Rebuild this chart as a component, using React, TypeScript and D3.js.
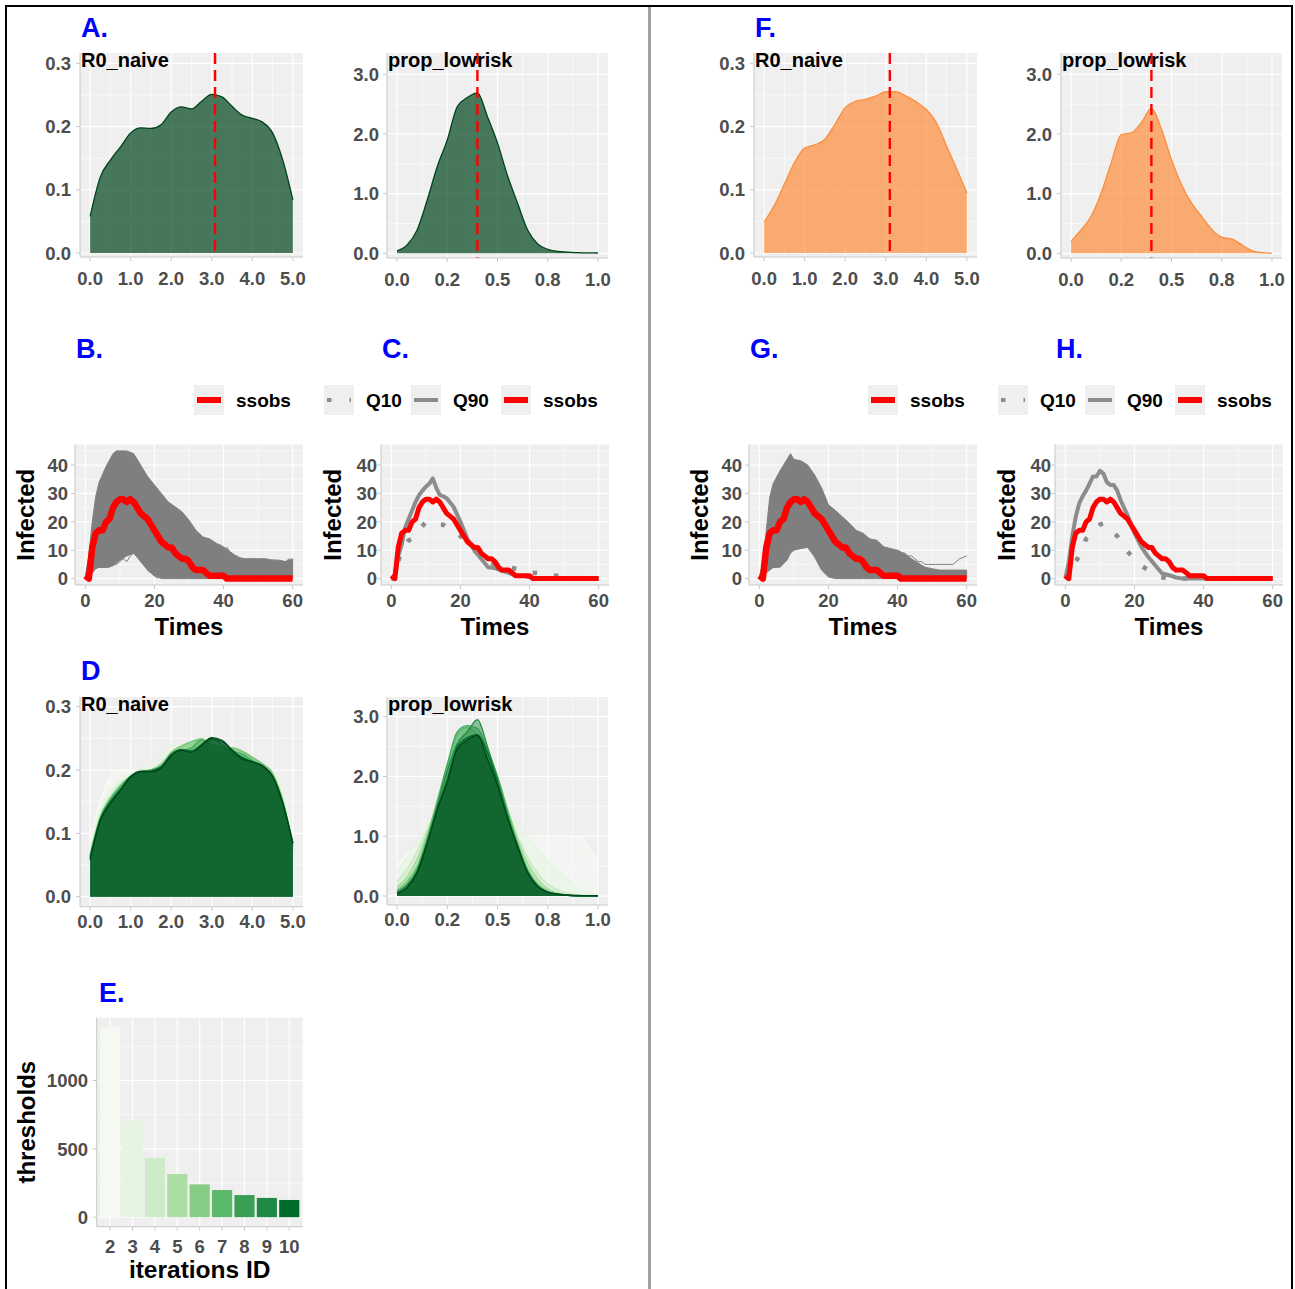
import React from 'react';
import * as d3 from 'd3';

// ---------- data ----------
const R0_X = [0, 0.25, 0.5, 0.75, 1, 1.25, 1.5, 1.75, 2, 2.25, 2.5, 2.75, 3, 3.25, 3.5, 3.75, 4, 4.25, 4.5, 4.75, 5];
const PROP_X = [0, 0.05, 0.1, 0.15, 0.2, 0.25, 0.3, 0.35, 0.4, 0.45, 0.5, 0.55, 0.6, 0.65, 0.7, 0.75, 0.8, 0.85, 0.9, 0.95, 1];

const A_R0 = [0.058, 0.12, 0.147, 0.168, 0.19, 0.198, 0.197, 0.203, 0.223, 0.231, 0.228, 0.24, 0.251, 0.247, 0.232, 0.218, 0.213, 0.207, 0.19, 0.147, 0.084];
const A_PROP = [0.04, 0.14, 0.39, 0.89, 1.45, 1.9, 2.46, 2.61, 2.69, 2.29, 1.85, 1.3, 0.84, 0.39, 0.156, 0.067, 0.03, 0.02, 0.01, 0.006, 0.005];
const F_R0 = [0.049, 0.075, 0.109, 0.143, 0.166, 0.171, 0.18, 0.204, 0.23, 0.24, 0.243, 0.248, 0.255, 0.255, 0.248, 0.239, 0.227, 0.206, 0.169, 0.133, 0.095];
const F_PROP = [0.2, 0.39, 0.62, 1.01, 1.52, 1.99, 2.02, 2.19, 2.43, 2.08, 1.57, 1.15, 0.84, 0.62, 0.4, 0.27, 0.24, 0.14, 0.045, 0.01, 0];

// posterior estimate (red dashed line)
const A_R0_EST = 3.08;
const A_PROP_EST = 0.4;
const F_R0_EST = 3.1;
const F_PROP_EST = 0.4;

// densities for each ABC iteration (panel D), first to last
const D_R0_DENS = [
  [0.085, 0.15, 0.19, 0.2, 0.2, 0.2, 0.2, 0.2, 0.205, 0.21, 0.21, 0.21, 0.21, 0.21, 0.21, 0.205, 0.2, 0.2, 0.19, 0.15, 0.08],
  [0.08, 0.14, 0.17, 0.185, 0.195, 0.2, 0.21, 0.225, 0.24, 0.24, 0.235, 0.23, 0.23, 0.23, 0.225, 0.22, 0.215, 0.21, 0.2, 0.16, 0.085],
  [0.07, 0.13, 0.16, 0.18, 0.19, 0.2, 0.2, 0.21, 0.225, 0.23, 0.24, 0.25, 0.24, 0.23, 0.235, 0.23, 0.22, 0.21, 0.195, 0.155, 0.08],
  [0.065, 0.125, 0.155, 0.175, 0.19, 0.195, 0.2, 0.21, 0.225, 0.235, 0.245, 0.25, 0.235, 0.225, 0.232, 0.228, 0.218, 0.208, 0.19, 0.15, 0.075],
  [0.06, 0.12, 0.15, 0.17, 0.185, 0.195, 0.2, 0.208, 0.228, 0.238, 0.245, 0.248, 0.228, 0.23, 0.235, 0.23, 0.22, 0.21, 0.195, 0.15, 0.07],
  [0.065, 0.125, 0.155, 0.175, 0.19, 0.197, 0.198, 0.205, 0.22, 0.23, 0.235, 0.248, 0.24, 0.235, 0.23, 0.225, 0.215, 0.205, 0.19, 0.15, 0.08],
  [0.06, 0.12, 0.15, 0.17, 0.19, 0.198, 0.2, 0.205, 0.225, 0.232, 0.23, 0.24, 0.25, 0.24, 0.226, 0.218, 0.212, 0.205, 0.19, 0.15, 0.085],
  [0.062, 0.122, 0.15, 0.17, 0.188, 0.197, 0.198, 0.205, 0.224, 0.232, 0.23, 0.238, 0.249, 0.245, 0.23, 0.22, 0.213, 0.206, 0.19, 0.148, 0.085],
  A_R0,
];
const D_PROP_DENS = [
  [0.5, 0.7, 0.8, 0.85, 0.9, 0.92, 0.95, 0.97, 0.98, 1.0, 1.0, 1.0, 1.0, 1.0, 1.0, 1.0, 1.0, 1.0, 0.98, 0.85, 0.55],
  [0.4, 0.65, 0.9, 1.15, 1.4, 1.6, 1.75, 1.8, 1.75, 1.62, 1.5, 1.38, 1.2, 0.99, 0.78, 0.6, 0.42, 0.28, 0.15, 0.05, 0.02],
  [0.25, 0.45, 0.75, 1.1, 1.5, 1.9, 2.2, 2.35, 2.3, 2.1, 1.8, 1.4, 1.0, 0.65, 0.38, 0.2, 0.1, 0.05, 0.02, 0.01, 0],
  [0.15, 0.32, 0.62, 1.05, 1.55, 2.05, 2.45, 2.6, 2.55, 2.3, 1.95, 1.45, 0.95, 0.55, 0.28, 0.12, 0.05, 0.02, 0.01, 0, 0],
  [0.1, 0.25, 0.5, 1.0, 1.6, 2.2, 2.7, 2.82, 2.7, 2.4, 2.0, 1.45, 0.9, 0.45, 0.2, 0.08, 0.03, 0.01, 0, 0, 0],
  [0.08, 0.2, 0.45, 0.95, 1.55, 2.2, 2.75, 2.85, 2.8, 2.45, 2.0, 1.4, 0.85, 0.42, 0.18, 0.07, 0.03, 0.01, 0, 0, 0],
  [0.06, 0.18, 0.42, 0.9, 1.5, 2.1, 2.55, 2.75, 2.95, 2.5, 1.95, 1.35, 0.8, 0.4, 0.17, 0.07, 0.03, 0.01, 0, 0, 0],
  [0.05, 0.15, 0.4, 0.88, 1.45, 1.95, 2.5, 2.65, 2.7, 2.4, 1.9, 1.33, 0.82, 0.4, 0.16, 0.06, 0.03, 0.01, 0, 0, 0],
  A_PROP,
];
const GREENS = ['#f7fcf5', '#e5f5e0', '#c7e9c0', '#a1d99b', '#74c476', '#41ab5d', '#238b45', '#006d2c', '#00441b'];

// observed epidemic
const TIMES = [0, 1, 2, 3, 4, 5, 6, 7, 8, 9, 10, 11, 12, 13, 14, 15, 16, 17, 18, 19, 20, 21, 22, 23, 24, 25, 26, 27, 28, 29, 30,
  31, 32, 33, 34, 35, 36, 37, 38, 39, 40, 41, 42, 43, 44, 45, 46, 47, 48, 49, 50, 51, 52, 53, 54, 55, 56, 57, 58, 59, 60];
const SSOBS = [1, 0, 11, 16, 17, 17, 20, 21, 25, 27, 28, 28, 27, 28, 27, 25, 23, 22, 21, 19, 17, 15, 13, 12, 11, 11, 9, 8, 7, 7, 6,
  4, 3, 3, 3, 2, 1, 1, 1, 1, 1, 0, 0, 0, 0, 0, 0, 0, 0, 0, 0, 0, 0, 0, 0, 0, 0, 0, 0, 0, 0];

// envelope of the simulated trajectories (panels B, G)
const ENV_T = [0, 1, 2, 3, 4, 6, 8, 9, 10, 12, 14, 16, 18, 20, 22, 24, 26, 28, 30, 32, 34, 36, 38, 40, 42, 44, 46, 48, 50, 52, 54, 56, 58, 60];
const B_UPPER = [1, 8, 20, 29, 34, 39.5, 44, 45, 45, 45, 44, 40, 36, 33, 30, 27, 25.3, 23.5, 20.6, 17, 14.7, 14, 12.4, 11.2, 9.4, 7.6, 7, 7, 7, 7, 6.6, 6.5, 6, 7];
const B_LOWER = [0, 0, 2, 3.5, 4, 4, 4.5, 5.5, 6.5, 8, 9, 6, 3, 1, 0, 0, 0, 0, 0, 0, 0, 0, 0, 0, 0, 0, 0, 0, 0, 0, 0, 0, 0, 0];
const G_UPPER = [1, 5, 17, 28.6, 33.5, 38, 42, 44, 42, 41.5, 40, 36.5, 32, 26, 24, 21.8, 19.6, 17, 16, 14, 13.5, 11.2, 10.6, 10, 8.8, 7, 5.5, 4, 3.5, 3, 3, 3, 3, 3];
const G_LOWER = [0, 0, 2, 3, 3.9, 4, 6.5, 9, 10, 10.6, 11, 7.6, 3, 0.6, 0, 0, 0, 0, 0, 0, 0, 0, 0, 0, 0, 0, 0, 0, 0, 0, 0, 0, 0, 0];

// a few individual simulated trajectories at the edges
const B_TRAJ = [
  { t: [0, 1, 2, 3, 4, 5, 6, 7, 8, 9, 10, 11, 12, 13, 14, 15, 16, 17, 18, 19, 20, 21],
    v: [1, 2, 3, 4, 4, 4, 4, 4, 5, 5, 6, 7, 6, 8, 9, 8, 6, 5, 3, 2, 1, 0] },
  { t: [0, 2, 4, 6, 8, 10, 12, 13, 14, 15, 16, 17, 18, 19, 20],
    v: [1, 3, 5, 5, 6, 8, 9, 10, 9, 10, 8, 6, 4, 2, 1] },
  { t: [34, 35, 36, 37, 38, 39, 40, 41, 42, 43, 44, 45, 46, 47, 48, 49, 50, 51, 52, 53, 54, 55, 56, 57, 58, 59, 60],
    v: [13, 12, 13, 12, 11, 12, 10, 11, 9, 8, 8, 7, 7, 6, 7, 7, 6, 6, 7, 6, 6, 5, 5, 6, 6, 7, 6] },
];
const G_TRAJ = [
  { t: [0, 1, 2, 3, 4, 5, 6, 7, 8, 9, 10, 11, 12, 13, 14, 15, 16, 17, 18, 19, 20],
    v: [1, 2, 4, 4, 4, 5, 6, 8, 10, 11, 12, 11, 11, 12, 11, 10, 8, 6, 4, 2, 1] },
  { t: [40, 41, 42, 43, 44, 45, 46, 47, 48, 49, 50, 51, 52, 53, 54, 55, 56, 57, 58, 59, 60],
    v: [10, 9, 9, 8, 8, 7, 6, 6, 5, 5, 5, 5, 5, 5, 5, 5, 5, 6, 7, 7.5, 8] },
];

// quantiles of the simulations (panels C, H)
const Q_T = [0, 1, 2, 3, 4, 5, 6, 7, 8, 9, 10, 11, 12, 13, 14, 15, 16, 18, 20, 22, 24, 26, 28, 30, 32, 34, 36, 38, 40, 42, 44, 46, 48, 50, 55, 60];
const C_Q90 = [0, 0, 8, 12, 18, 21, 24, 27, 29.4, 31, 32.4, 33.5, 35.3, 32, 29.5, 29, 28.3, 25.3, 20, 14, 10, 7, 4, 3.7, 2.7, 2, 1, 1, 0.5, 0, 0, 0, 0, 0, 0, 0];
const C_Q10 = [0, 0, 6, 10, 12, 13.5, 14, 15.5, 17, 18.5, 20, 20, 20, 19.5, 19, 19, 18, 17, 15, 12, 10, 8, 6, 5, 4, 4, 3.5, 3, 2, 2, 1.5, 1, 1, 0.5, 0, 0];
const H_Q90 = [0, 6, 14.7, 21.8, 26.5, 29, 31, 33.5, 36, 36, 38, 37, 34, 33, 33, 31, 27.6, 22.3, 16, 11.2, 7.6, 4.7, 1.8, 1.2, 0.4, 0, 0, 0, 0, 0, 0, 0, 0, 0, 0, 0];
const H_Q10 = [0, 0.5, 3, 6, 8, 11, 14, 15, 16.5, 18, 19, 19.5, 19, 17.5, 16, 15, 13, 9.5, 7, 4.5, 3, 1, 0.5, 0, 0, 0, 0, 0, 0, 0, 0, 0, 0, 0, 0, 0];

// thresholds per iteration (panel E)
const ITER_IDS = ['2', '3', '4', '5', '6', '7', '8', '9', '10'];
const THRESHOLDS = [1390, 704, 434, 316, 240, 199, 162, 141, 126];
const BAR_COLORS = ['#f4faf2', '#e6f4e2', '#cdebc6', '#acdea4', '#86cc84', '#5cb86a', '#3a9f55', '#1f8a43', '#006d2c'];

// tick labels
const R0_TICKS = [0, 1, 2, 3, 4, 5];
const R0_LABELS = ['0.0', '1.0', '2.0', '3.0', '4.0', '5.0'];
const R0_MINOR = [0.5, 1.5, 2.5, 3.5, 4.5];
const R0_Y_TICKS = [0, 0.1, 0.2, 0.3];
const R0_Y_LABELS = ['0.0', '0.1', '0.2', '0.3'];
const R0_Y_MINOR = [0.05, 0.15, 0.25];
const PROP_TICKS = [0, 0.25, 0.5, 0.75, 1];
const PROP_LABELS = ['0.0', '0.2', '0.5', '0.8', '1.0'];
const PROP_MINOR = [0.125, 0.375, 0.625, 0.875];
const PROP_Y_TICKS = [0, 1, 2, 3];
const PROP_Y_LABELS = ['0.0', '1.0', '2.0', '3.0'];
const PROP_Y_MINOR = [0.5, 1.5, 2.5];
const TIME_TICKS = [0, 20, 40, 60];
const TIME_LABELS = ['0', '20', '40', '60'];
const TIME_MINOR = [10, 30, 50];
const INF_TICKS = [0, 10, 20, 30, 40];
const INF_LABELS = ['0', '10', '20', '30', '40'];
const INF_MINOR = [5, 15, 25, 35, 45];
const THR_TICKS = [0, 500, 1000];
const THR_LABELS = ['0', '500', '1000'];
const THR_MINOR = [250, 750, 1250];

// ---------- styling ----------
const FONT = '"Liberation Sans", Arial, Helvetica, sans-serif';
const PANEL_BG = '#efefef';
const AXIS_TXT = '#4d4d4d';
const TICK_COL = '#c8c8c8';
const SIM_GRAY = '#7f7f7f';
const Q_GRAY = '#8c8c8c';

type Lin = d3.ScaleLinear<number, number>;

function Frame(props: {
  x: Lin; y: Lin;
  xMajor: number[]; xMinor: number[]; xLabels: string[];
  yMajor: number[]; yMinor: number[]; yLabels: string[];
  yLabRight: number; xLabBase: number; children?: React.ReactNode;
}) {
  const { x, y, xMajor, xMinor, xLabels, yMajor, yMinor, yLabels, yLabRight, xLabBase, children } = props;
  const [x0, x1] = x.range();
  const [yb, yt] = y.range();
  return (
    <g>
      <rect x={x0} y={yt} width={x1 - x0} height={yb - yt} fill={PANEL_BG} />
      {xMinor.map((v) => <line key={'xn' + v} x1={x(v)} x2={x(v)} y1={yt} y2={yb} stroke="#fff" strokeWidth={0.6} />)}
      {yMinor.map((v) => <line key={'yn' + v} x1={x0} x2={x1} y1={y(v)} y2={y(v)} stroke="#fff" strokeWidth={0.6} />)}
      {xMajor.map((v) => <line key={'xj' + v} x1={x(v)} x2={x(v)} y1={yt} y2={yb} stroke="#fff" strokeWidth={1.2} />)}
      {yMajor.map((v) => <line key={'yj' + v} x1={x0} x2={x1} y1={y(v)} y2={y(v)} stroke="#fff" strokeWidth={1.2} />)}
      {children}
      <line x1={x0} x2={x0} y1={yt} y2={yb} stroke={TICK_COL} strokeWidth={1} />
      <line x1={x0} x2={x1} y1={yb} y2={yb} stroke={TICK_COL} strokeWidth={1} />
      {xMajor.map((v) => <line key={'xt' + v} x1={x(v)} x2={x(v)} y1={yb} y2={yb + 4} stroke={TICK_COL} />)}
      {yMajor.map((v) => <line key={'yt' + v} x1={x0 - 4} x2={x0} y1={y(v)} y2={y(v)} stroke={TICK_COL} />)}
      {xMajor.map((v, i) => (
        <text key={'xl' + v} x={x(v)} y={xLabBase} textAnchor="middle" fontSize={18.5} fontWeight="bold" fill={AXIS_TXT}>{xLabels[i]}</text>
      ))}
      {yMajor.map((v, i) => (
        <text key={'yl' + v} x={yLabRight} y={y(v)} dy="0.36em" textAnchor="end" fontSize={18.5} fontWeight="bold" fill={AXIS_TXT}>{yLabels[i]}</text>
      ))}
    </g>
  );
}

type Dens = { ys: number[]; fill: string; opacity: number; stroke: string };

function DensityPanel(props: {
  kind: 'r0' | 'prop'; left: number; right: number; top: number; bottom: number;
  yDom: [number, number]; yLabRight: number; xLabBase: number;
  curves: Dens[]; est?: number;
}) {
  const { kind, left, right, top, bottom, yDom, yLabRight, xLabBase, curves, est } = props;
  const isR0 = kind === 'r0';
  const xs = isR0 ? R0_X : PROP_X;
  const x = d3.scaleLinear().domain(isR0 ? [-0.25, 5.25] : [-0.05, 1.05]).range([left, right]);
  const y = d3.scaleLinear().domain(yDom).range([bottom, top]);
  const area = d3.area<number>().x((_, i) => x(xs[i])).y0(y(0)).y1((d) => y(d)).curve(d3.curveMonotoneX);
  const line = d3.line<number>().x((_, i) => x(xs[i])).y((d) => y(d)).curve(d3.curveMonotoneX);
  return (
    <Frame
      x={x} y={y}
      xMajor={isR0 ? R0_TICKS : PROP_TICKS} xMinor={isR0 ? R0_MINOR : PROP_MINOR} xLabels={isR0 ? R0_LABELS : PROP_LABELS}
      yMajor={isR0 ? R0_Y_TICKS : PROP_Y_TICKS} yMinor={isR0 ? R0_Y_MINOR : PROP_Y_MINOR} yLabels={isR0 ? R0_Y_LABELS : PROP_Y_LABELS}
      yLabRight={yLabRight} xLabBase={xLabBase}
    >
      {curves.map((c, i) => (
        <g key={i}>
          <path d={area(c.ys) || ''} fill={c.fill} fillOpacity={c.opacity} />
          <path d={line(c.ys) || ''} fill="none" stroke={c.stroke} strokeWidth={1.3} />
        </g>
      ))}
      {est !== undefined && (
        <line x1={x(est)} x2={x(est)} y1={top} y2={bottom} stroke="#ff0000" strokeWidth={2.4} strokeDasharray="11,6" />
      )}
      <text x={left + 1} y={top + 14} fontSize={20} fontWeight="bold" fill="#000">{isR0 ? 'R0_naive' : 'prop_lowrisk'}</text>
    </Frame>
  );
}

type Series = { t: number[]; v: number[] };

function TimePanel(props: {
  left: number; yLabRight: number; infX: number;
  envelope?: { upper: number[]; lower: number[]; traj: Series[] };
  q10?: number[]; q90?: number[];
}) {
  const { left, yLabRight, infX, envelope, q10, q90 } = props;
  const right = left + 228;
  const top = 444.5;
  const bottom = 585;
  const x = d3.scaleLinear().domain([-3, 63]).range([left, right]);
  const y = d3.scaleLinear().domain([-2.25, 47.25]).range([bottom, top]);
  const mk = (ts: number[]) => d3.line<number>().x((_, i) => x(ts[i])).y((d) => y(d));
  let envPath = '';
  if (envelope) {
    envPath = d3.area<number>().x((_, i) => x(ENV_T[i])).y0((_, i) => y(envelope.lower[i])).y1((d) => y(d))(envelope.upper) || '';
  }
  return (
    <g>
      <Frame
        x={x} y={y}
        xMajor={TIME_TICKS} xMinor={TIME_MINOR} xLabels={TIME_LABELS}
        yMajor={INF_TICKS} yMinor={INF_MINOR} yLabels={INF_LABELS}
        yLabRight={yLabRight} xLabBase={607}
      >
        {envelope && (
          <g>
            <path d={envPath} fill={SIM_GRAY} stroke={SIM_GRAY} strokeWidth={1} />
            {envelope.traj.map((s, i) => (
              <path key={i} d={mk(s.t)(s.v) || ''} fill="none" stroke={SIM_GRAY} strokeWidth={1} />
            ))}
          </g>
        )}
        {q10 && <path d={mk(Q_T)(q10) || ''} fill="none" stroke={Q_GRAY} strokeWidth={4.5} strokeDasharray="4.5,17" />}
        {q90 && <path d={mk(Q_T)(q90) || ''} fill="none" stroke={Q_GRAY} strokeWidth={4} strokeLinejoin="round" />}
        <path d={mk(TIMES)(SSOBS) || ''} fill="none" stroke="#ff0000" strokeWidth={envelope ? 6.5 : 5} strokeLinejoin="round" />
      </Frame>
      <text transform={`translate(${infX},${(top + bottom) / 2}) rotate(-90)`} dy="0.35em" textAnchor="middle" fontSize={24} fontWeight="bold" fill="#000">Infected</text>
      <text x={(left + right) / 2} y={635} textAnchor="middle" fontSize={24} fontWeight="bold" fill="#000">Times</text>
    </g>
  );
}

function LegendKey(props: { x: number; label: string; kind: 'ssobs' | 'q10' | 'q90' }) {
  const { x, label, kind } = props;
  const color = kind === 'ssobs' ? '#ff0000' : Q_GRAY;
  return (
    <g>
      <rect x={x} y={385} width={30} height={30} fill={PANEL_BG} />
      <line x1={x + 3} x2={x + 27} y1={400} y2={400} stroke={color} strokeWidth={kind === 'ssobs' ? 6 : 4}
        strokeDasharray={kind === 'q10' ? '4.5,18' : undefined} />
      <text x={x + 42} y={407} fontSize={19} fontWeight="bold" fill="#000">{label}</text>
    </g>
  );
}

function ThresholdPanel() {
  const left = 96.7, right = 302.7, top = 1017.7, bottom = 1226.7;
  const x = d3.scaleBand<string>().domain(ITER_IDS).range([left, right]).paddingInner(0.1).paddingOuter(0.15);
  const y = d3.scaleLinear().domain([-69.5, 1459.5]).range([bottom, top]);
  const cx = (id: string) => (x(id) || 0) + x.bandwidth() / 2;
  return (
    <g>
      <rect x={left} y={top} width={right - left} height={bottom - top} fill={PANEL_BG} />
      {THR_MINOR.map((v) => <line key={'n' + v} x1={left} x2={right} y1={y(v)} y2={y(v)} stroke="#fff" strokeWidth={0.6} />)}
      {THR_TICKS.map((v) => <line key={'j' + v} x1={left} x2={right} y1={y(v)} y2={y(v)} stroke="#fff" strokeWidth={1.2} />)}
      {ITER_IDS.map((id) => <line key={'v' + id} x1={cx(id)} x2={cx(id)} y1={top} y2={bottom} stroke="#fff" strokeWidth={1.2} />)}
      {ITER_IDS.map((id, i) => (
        <rect key={'b' + id} x={x(id)} y={y(THRESHOLDS[i])} width={x.bandwidth()} height={y(0) - y(THRESHOLDS[i])} fill={BAR_COLORS[i]} />
      ))}
      <line x1={left} x2={left} y1={top} y2={bottom} stroke={TICK_COL} />
      <line x1={left} x2={right} y1={bottom} y2={bottom} stroke={TICK_COL} />
      {ITER_IDS.map((id) => <line key={'t' + id} x1={cx(id)} x2={cx(id)} y1={bottom} y2={bottom + 4} stroke={TICK_COL} />)}
      {THR_TICKS.map((v) => <line key={'yt' + v} x1={left - 4} x2={left} y1={y(v)} y2={y(v)} stroke={TICK_COL} />)}
      {ITER_IDS.map((id) => (
        <text key={'l' + id} x={cx(id)} y={1253} textAnchor="middle" fontSize={18.5} fontWeight="bold" fill={AXIS_TXT}>{id}</text>
      ))}
      {THR_TICKS.map((v, i) => (
        <text key={'yl' + v} x={88} y={y(v)} dy="0.36em" textAnchor="end" fontSize={18.5} fontWeight="bold" fill={AXIS_TXT}>{THR_LABELS[i]}</text>
      ))}
      <text x={(left + right) / 2} y={1278} textAnchor="middle" fontSize={24.5} fontWeight="bold" fill="#000">iterations ID</text>
      <text transform={`translate(27,${(top + bottom) / 2}) rotate(-90)`} dy="0.35em" textAnchor="middle" fontSize={24} fontWeight="bold" fill="#000">thresholds</text>
    </g>
  );
}

function PanelLetter(props: { x: number; y: number; text: string }) {
  return <text x={props.x} y={props.y} fontSize={27} fontWeight="bold" fill="#0000ff">{props.text}</text>;
}

export default function App() {
  const green = (ys: number[]): Dens[] => [{ ys, fill: '#00441b', opacity: 0.7, stroke: '#00441b' }];
  const orange = (ys: number[]): Dens[] => [{ ys, fill: '#fd8d3c', opacity: 0.7, stroke: '#fd8d3c' }];
  const iters = (list: number[][]): Dens[] =>
    list.map((ys, i) => ({ ys, fill: GREENS[i], opacity: 0.5, stroke: GREENS[i] }));

  return (
    <svg width={1295} height={1289} fontFamily={FONT} style={{ position: 'absolute', left: 0, top: 0, display: 'block' }}>
      <rect width={1295} height={1289} fill="#fff" />

      {/* left half */}
      <PanelLetter x={81} y={37} text="A." />
      <DensityPanel kind="r0" left={80} right={303} top={53} bottom={257} yDom={[-0.0063, 0.3163]} yLabRight={71} xLabBase={285}
        curves={green(A_R0)} est={A_R0_EST} />
      <DensityPanel kind="prop" left={387} right={608} top={53} bottom={258} yDom={[-0.079, 3.357]} yLabRight={379} xLabBase={286}
        curves={green(A_PROP)} est={A_PROP_EST} />

      <PanelLetter x={76} y={358} text="B." />
      <PanelLetter x={382} y={358} text="C." />
      <LegendKey x={194} label="ssobs" kind="ssobs" />
      <LegendKey x={324} label="Q10" kind="q10" />
      <LegendKey x={411} label="Q90" kind="q90" />
      <LegendKey x={501} label="ssobs" kind="ssobs" />
      <TimePanel left={75} yLabRight={68} infX={26} envelope={{ upper: B_UPPER, lower: B_LOWER, traj: B_TRAJ }} />
      <TimePanel left={381} yLabRight={377} infX={333} q10={C_Q10} q90={C_Q90} />

      <PanelLetter x={81} y={680} text="D" />
      <DensityPanel kind="r0" left={80} right={303} top={697} bottom={906.7} yDom={[-0.0158, 0.3153]} yLabRight={71} xLabBase={928}
        curves={iters(D_R0_DENS)} />
      <DensityPanel kind="prop" left={387} right={608} top={697} bottom={905} yDom={[-0.15, 3.33]} yLabRight={379} xLabBase={926}
        curves={iters(D_PROP_DENS)} />

      <PanelLetter x={99} y={1002} text="E." />
      <ThresholdPanel />

      {/* right half */}
      <PanelLetter x={755} y={37} text="F." />
      <DensityPanel kind="r0" left={754} right={977} top={53} bottom={257} yDom={[-0.0063, 0.3163]} yLabRight={745} xLabBase={285}
        curves={orange(F_R0)} est={F_R0_EST} />
      <DensityPanel kind="prop" left={1061} right={1282} top={53} bottom={258} yDom={[-0.079, 3.357]} yLabRight={1052} xLabBase={286}
        curves={orange(F_PROP)} est={F_PROP_EST} />

      <PanelLetter x={750} y={358} text="G." />
      <PanelLetter x={1056} y={358} text="H." />
      <LegendKey x={868} label="ssobs" kind="ssobs" />
      <LegendKey x={998} label="Q10" kind="q10" />
      <LegendKey x={1085} label="Q90" kind="q90" />
      <LegendKey x={1175} label="ssobs" kind="ssobs" />
      <TimePanel left={749} yLabRight={742} infX={700} envelope={{ upper: G_UPPER, lower: G_LOWER, traj: G_TRAJ }} />
      <TimePanel left={1055} yLabRight={1051} infX={1007} q10={H_Q10} q90={H_Q90} />

      {/* figure frame */}
      <line x1={6} x2={6} y1={5} y2={1289} stroke="#000" strokeWidth={2} />
      <line x1={5} x2={1293} y1={6} y2={6} stroke="#000" strokeWidth={2} />
      <line x1={1292} x2={1292} y1={5} y2={1289} stroke="#000" strokeWidth={2} />
      <line x1={649.5} x2={649.5} y1={7} y2={1289} stroke="#a0a0a0" strokeWidth={3} />
    </svg>
  );
}
